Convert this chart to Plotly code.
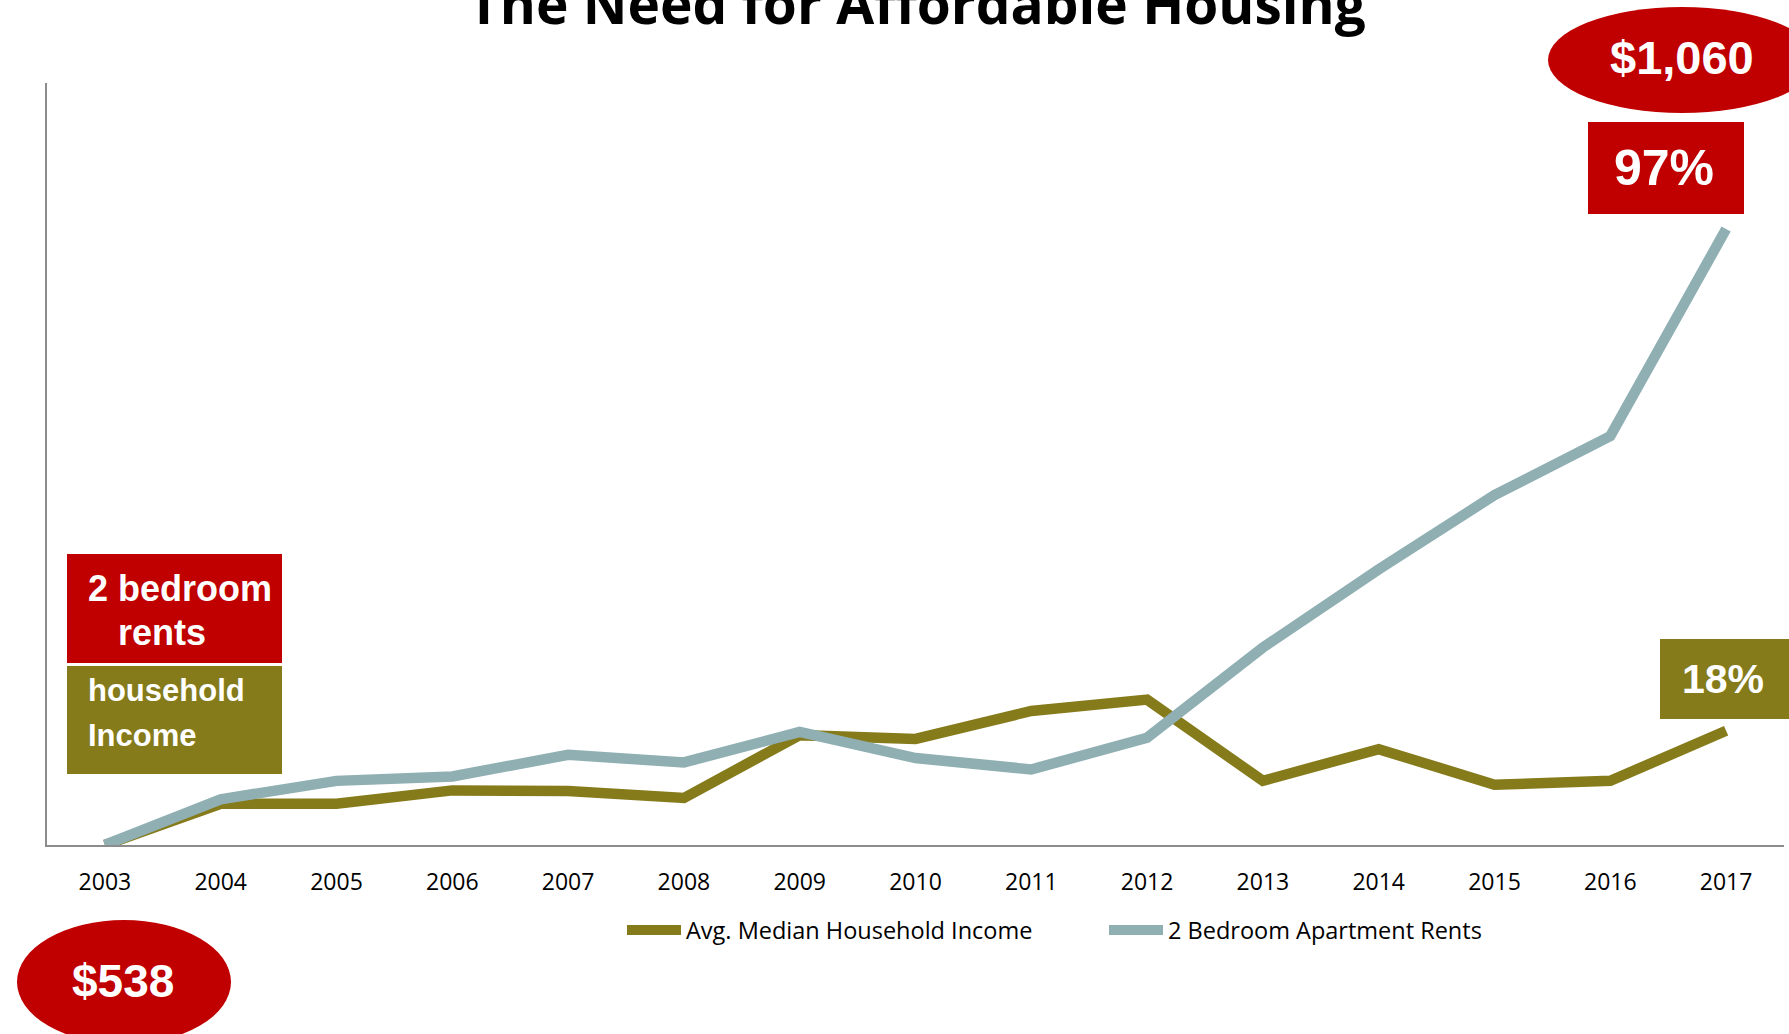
import plotly.graph_objects as go

# Percent change since 2003
years = list(range(2003, 2018))
income_pct = [0, 6.5, 6.5, 8.6, 8.5, 7.4, 17.3, 16.7, 21.1, 22.9, 10.1, 15.1, 9.5, 10.1, 18]
rent_pct = [0, 7.2, 10.1, 10.8, 14.2, 13.0, 17.8, 13.7, 11.9, 16.9, 31.1, 43.4, 55.1, 64.4, 97]

# Monthly 2-bedroom rent, first and last year
rent_usd_start = 538
rent_usd_end = 1060

INCOME_NAME = "Avg. Median Household Income"
RENT_NAME = "2 Bedroom Apartment Rents"

OLIVE = "#857B1B"
TEAL = "#8FAFB3"
RED = "#C00000"
AXIS_GREY = "#8C8C8C"

W, H = 1789, 1034
L, R, T, B = 47, 1784, 83, 845


def fx(px):
    return (px - L) / (R - L)


def fy(py):
    return (B - py) / (B - T)


fig = go.Figure()
fig.add_trace(go.Scatter(x=years, y=income_pct, mode="lines", name=INCOME_NAME,
                         line=dict(color=OLIVE, width=10.5)))
fig.add_trace(go.Scatter(x=years, y=rent_pct, mode="lines", name=RENT_NAME,
                         line=dict(color=TEAL, width=10.5)))

shapes = []
annotations = []


def box(x0, y0, x1, y1, color, kind="rect"):
    shapes.append(dict(type=kind, xref="paper", yref="paper",
                       x0=fx(x0), x1=fx(x1), y0=fy(y1), y1=fy(y0),
                       fillcolor=color, line=dict(width=0), layer="above"))


def label(text, px, py, size, anchor="center", color="white", family="Liberation Sans, Arial",
          weight="bold"):
    annotations.append(dict(text=text, xref="paper", yref="paper",
                            x=fx(px), y=fy(py), xanchor=anchor, yanchor="middle",
                            showarrow=False,
                            font=dict(family=family, size=size, color=color, weight=weight)))


# Side legend boxes
box(67, 554, 282, 663, RED)
box(67, 666, 282, 774, OLIVE)
label("2 bedroom", 86, 588, 36, "left")
label("rents", 116, 632, 36, "left")
label("household", 86, 690, 31, "left")
label("Income", 86, 735, 31, "left")

# Rent callouts
box(1548, 7, 1816, 113, RED, "circle")
label(f"${rent_usd_end:,}", 1682, 58, 47)
box(1588, 122, 1744, 214, RED)
label(f"{rent_pct[-1]:.0f}%", 1664, 168, 50)

box(17, 920, 231, 1044, RED, "circle")
label(f"${rent_usd_start:,}", 123, 981, 46)

# Income callout
box(1660, 639, 1800, 719, OLIVE)
label(f"{income_pct[-1]:.0f}%", 1723, 679, 41)

# Series key below the axis
for name, color, x0 in [(INCOME_NAME, OLIVE, 627), (RENT_NAME, TEAL, 1109)]:
    shapes.append(dict(type="line", xref="paper", yref="paper",
                       x0=fx(x0), x1=fx(x0 + 54), y0=fy(930), y1=fy(930),
                       line=dict(color=color, width=10)))
    label(name, x0 + 57, 930, 23.5, "left", color="black", family="Open Sans", weight="normal")

# Title
annotations.append(dict(text="The Need for Affordable Housing", xref="paper", yref="paper",
                        x=fx(917), y=fy(3), xanchor="center", yanchor="middle",
                        showarrow=False,
                        font=dict(family="Open Sans", size=55, color="black", weight="bold")))

fig.update_layout(
    width=W, height=H, autosize=False,
    margin=dict(l=L, r=W - R, t=T, b=H - B),
    paper_bgcolor="white", plot_bgcolor="white",
    showlegend=False,
    xaxis=dict(range=[2002.5, 2017.5], tickmode="array", tickvals=years,
               ticktext=[str(y) for y in years], showgrid=False, zeroline=False,
               showline=True, linecolor=AXIS_GREY, linewidth=2, ticks="",
               ticklabelstandoff=15,
               tickfont=dict(family="Open Sans", size=23, color="black")),
    yaxis=dict(range=[0, 120], showgrid=False, zeroline=False, showline=True,
               linecolor=AXIS_GREY, linewidth=2, ticks="", showticklabels=False),
    shapes=shapes,
    annotations=annotations,
)

fig.write_html("out.html")
